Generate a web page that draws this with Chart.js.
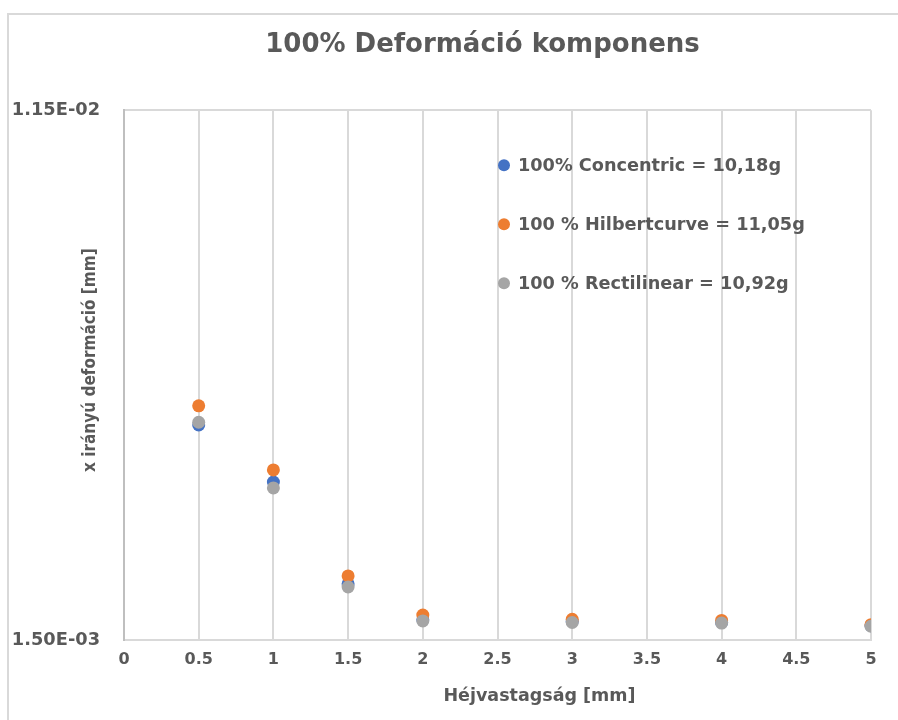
<!DOCTYPE html>
<html>
<head>
<meta charset="utf-8">
<script src="https://cdn.jsdelivr.net/npm/chart.js@4/dist/chart.umd.min.js"></script>
<style>
  html, body { margin: 0; padding: 0; background: #ffffff; }
  #wrap { width: 898px; height: 720px; position: relative; }
</style>
</head>
<body>
<div id="wrap"><canvas id="c" width="898" height="720"></canvas></div>
<script>
// ---- data ----
const chartTitle = '100% Deformáció komponens';
const xAxisTitle = 'Héjvastagság [mm]';
const yAxisTitle = 'x irányú deformáció [mm]';
const xValues = [0.5, 1, 1.5, 2, 3, 4, 5];
const seriesNames = ['100% Concentric = 10,18g', '100 % Hilbertcurve = 11,05g', '100 % Rectilinear = 10,92g'];
const concentric = [0.00556, 0.00448, 0.00256, 0.00188, 0.00185, 0.00183, 0.00177];
const hilbert = [0.00592, 0.00471, 0.00271, 0.00197, 0.00189, 0.00187, 0.00179];
const rectilinear = [0.00561, 0.00437, 0.00250, 0.00186, 0.00183, 0.00182, 0.00176];
const yTicks = [0.0015, 0.0115];
const xMin = 0, xMax = 5, xStep = 0.5;
const colors = ['#4472C4', '#ED7D31', '#A5A5A5'];

const FONT = '"DejaVu Sans", "Liberation Sans", sans-serif';
const TEXT = '#595959';

function toPts(vals) { return xValues.map((x, i) => ({ x: x, y: vals[i] })); }
function fmtExp(v) {
  const s = v.toExponential(2);
  const parts = s.split('e');
  let e = parseInt(parts[1], 10);
  const sign = e < 0 ? '-' : '+';
  e = Math.abs(e);
  return parts[0] + 'E' + sign + (e < 10 ? '0' + e : '' + e);
}

const frame = {
  id: 'frame',
  beforeDraw(chart) {
    const ctx = chart.ctx;
    ctx.save();
    ctx.fillStyle = '#ffffff';
    ctx.fillRect(0, 0, chart.width, chart.height);
    ctx.strokeStyle = '#d9d9d9';
    ctx.lineWidth = 2;
    ctx.strokeRect(8, 14, chart.width + 20, chart.height + 20);
    ctx.restore();
  }
};

// shift titles to the positions used in the reference layout
function wrapShift(obj, method, dx, dy) {
  if (!obj || obj['_shift_' + method]) return;
  const orig = obj[method].bind(obj);
  obj[method] = function () {
    const ctx = this.ctx;
    ctx.save();
    ctx.translate(dx, dy);
    const r = orig.apply(null, arguments);
    ctx.restore();
    return r;
  };
  obj['_shift_' + method] = true;
}
const titleShift = {
  id: 'titleShift',
  afterLayout(chart) {
    wrapShift(chart.titleBlock, 'draw', -15, 0);
    wrapShift(chart.scales.x, 'drawTitle', 42, 0);
    wrapShift(chart.scales.y, 'drawTitle', 0, -15);
  }
};

const innerLegend = {
  id: 'innerLegend',
  afterDraw(chart) {
    const ctx = chart.ctx;
    const area = chart.chartArea;
    const x0 = area.left + 380;
    const y0 = area.top + 55;
    const gap = 59;
    ctx.save();
    ctx.font = 'bold 17.7px ' + FONT;
    ctx.textBaseline = 'middle';
    ctx.textAlign = 'left';
    chart.data.datasets.forEach((ds, i) => {
      const y = y0 + i * gap;
      ctx.beginPath();
      ctx.fillStyle = ds.backgroundColor;
      ctx.arc(x0, y, 6, 0, Math.PI * 2);
      ctx.fill();
      ctx.fillStyle = TEXT;
      ctx.fillText(ds.label, x0 + 14, y + 1);
    });
    ctx.restore();
  }
};

const datasets = [
  { label: seriesNames[0], data: toPts(concentric), backgroundColor: colors[0], borderColor: colors[0], order: 2 },
  { label: seriesNames[1], data: toPts(hilbert), backgroundColor: colors[1], borderColor: colors[1], order: 1 },
  { label: seriesNames[2], data: toPts(rectilinear), backgroundColor: colors[2], borderColor: colors[2], order: 0 }
].map(d => Object.assign(d, { pointRadius: 6.5, pointHoverRadius: 6.5, borderWidth: 0, showLine: false }));

new Chart(document.getElementById('c'), {
  type: 'scatter',
  data: { datasets: datasets },
  plugins: [frame, titleShift, innerLegend],
  options: {
    responsive: false,
    animation: false,
    layout: { padding: { left: 0, right: 27, top: 0, bottom: 0 } },
    plugins: {
      legend: { display: false },
      tooltip: { enabled: false },
      title: {
        display: true,
        text: chartTitle,
        fullSize: false,
        color: TEXT,
        font: { family: FONT, size: 26, weight: 'bold' },
        padding: { top: 30, bottom: 49 }
      }
    },
    scales: {
      x: {
        type: 'linear',
        min: xMin, max: xMax,
        ticks: {
          stepSize: xStep,
          color: TEXT,
          padding: 10,
          font: { family: FONT, size: 16, weight: 'bold' },
          callback: v => String(v)
        },
        grid: { color: '#d9d9d9', lineWidth: 2, drawTicks: false },
        border: { display: true, color: '#d9d9d9', width: 2 },
        title: {
          display: true, text: xAxisTitle, color: TEXT,
          font: { family: FONT, size: 17.5, weight: 'bold' },
          padding: { top: 4, bottom: 13 }
        },
        afterFit: s => { s.height = 80; }
      },
      y: {
        type: 'linear',
        min: yTicks[0], max: yTicks[yTicks.length - 1],
        afterBuildTicks: s => { s.ticks = yTicks.map(v => ({ value: v })); },
        ticks: {
          color: TEXT,
          padding: 24,
          font: { family: FONT, size: 17.8, weight: 'bold' },
          callback: v => fmtExp(v)
        },
        grid: { color: '#d9d9d9', lineWidth: 2, drawTicks: false },
        border: { display: true, color: '#bfbfbf', width: 2 },
        title: {
          display: true, text: yAxisTitle, color: TEXT,
          font: { family: '"DejaVu Sans Condensed", ' + FONT, size: 17, weight: 'bold' },
          padding: { top: 80, bottom: 4 }
        },
        afterFit: s => { s.width = 124; }
      }
    }
  }
});
</script>
</body>
</html>
